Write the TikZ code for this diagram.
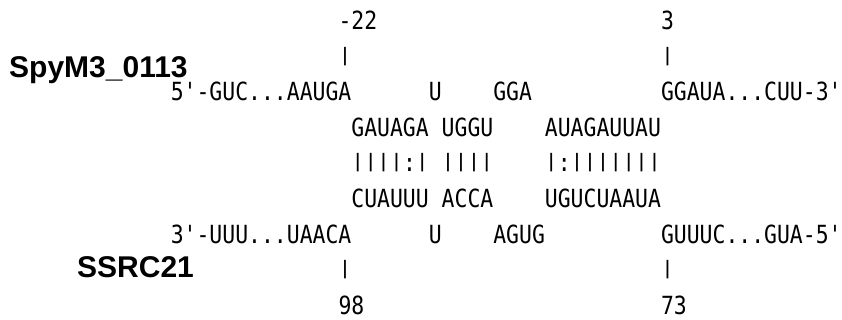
\documentclass[tikz,border=0pt]{standalone}
\usepackage{fontspec}
\usepackage{graphicx}
\setmonofont[FakeStretch=0.857]{DejaVu Sans Mono}
\newfontfamily\labfont{Liberation Sans}
\newcommand\pp{\raisebox{4.4pt}{\scalebox{1}[0.74]{|}}}
\tikzset{
  seq/.style={anchor=base west, inner sep=0pt, font=\ttfamily\fontsize{25}{25}\selectfont},
  lab/.style={anchor=base west, inner sep=0pt, font=\labfont\bfseries\fontsize{30}{30}\selectfont}
}
\begin{document}
\begin{tikzpicture}[x=1pt,y=-1pt]
\useasboundingbox (0,0) rectangle (842,320);
% positions
\node[seq] (n22) at (338.3,30) {-22};
\node[seq] (n3) at (660.8,30) {3};
\node[seq] (bar1) at (338.3,65.5) {\pp};
\node[seq] (bar2) at (660.8,65.5) {\pp};
% target strand
\node[seq] (top5) at (170.6,101) {5'-GUC...AAUGA};
\node[seq] (topU) at (428.6,101) {U};
\node[seq] (topGGA) at (493.1,101) {GGA};
\node[seq] (top3) at (660.8,101) {GGAUA...CUU-3'};
\node[seq] (a1) at (351.2,136.5) {GAUAGA};
\node[seq] (a2) at (441.5,136.5) {UGGU};
\node[seq] (a3) at (544.7,136.5) {AUAGAUUAU};
% pairing
\node[seq] (p1) at (351.2,172) {\pp\pp\pp\pp:\pp};
\node[seq] (p2) at (441.5,172) {\pp\pp\pp\pp};
\node[seq] (p3) at (544.7,172) {\pp:\pp\pp\pp\pp\pp\pp\pp};
% sRNA strand
\node[seq] (b1) at (351.2,207.5) {CUAUUU};
\node[seq] (b2) at (441.5,207.5) {ACCA};
\node[seq] (b3) at (544.7,207.5) {UGUCUAAUA};
\node[seq] (bot3) at (170.6,243) {3'-UUU...UAACA};
\node[seq] (botU) at (428.6,243) {U};
\node[seq] (botAGUG) at (493.1,243) {AGUG};
\node[seq] (bot5) at (660.8,243) {GUUUC...GUA-5'};
\node[seq] (bar3) at (338.3,278.5) {\pp};
\node[seq] (bar4) at (660.8,278.5) {\pp};
\node[seq] (n98) at (338.3,314) {98};
\node[seq] (n73) at (660.8,314) {73};
% labels
\node[lab] (spy) at (9,78) {SpyM3\_0113};
\node[lab] (ssrc) at (77,277) {SSRC21};
\end{tikzpicture}
\end{document}
